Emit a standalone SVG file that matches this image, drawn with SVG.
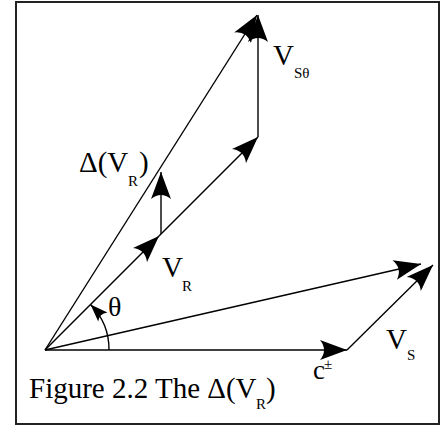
<svg xmlns="http://www.w3.org/2000/svg" width="447" height="428" viewBox="0 0 447 428">
  <defs>
    <marker id="ah" markerUnits="userSpaceOnUse" viewBox="0 0 27 20" refX="27" refY="10" markerWidth="27" markerHeight="20" orient="auto">
      <path d="M27,10 L0,0 Q8,10 0,20 Z" fill="#000"/>
    </marker>
    <marker id="ahs" markerUnits="userSpaceOnUse" viewBox="0 0 27 20" refX="27" refY="10" markerWidth="18" markerHeight="13" orient="auto">
      <path d="M27,10 L0,0 Q8,10 0,20 Z" fill="#000"/>
    </marker>
  </defs>
  <style>
    .ln { fill: none; stroke: #000; stroke-width: 1.4; marker-end: url(#ah); }
    .arc { fill: none; stroke: #000; stroke-width: 1.4; marker-end: url(#ahs); }
    .t { font-family: "Liberation Serif", "Times New Roman", serif; font-size: 29px; fill: #000; }
    .s { font-family: "Liberation Serif", "Times New Roman", serif; font-size: 15px; fill: #000; }
  </style>
  <rect x="16" y="2" width="423" height="422" fill="#fff" stroke="#222" stroke-width="2"/>
  <g id="connectors">
    <line class="ln" x1="45" y1="350" x2="347" y2="350"/>
    <line class="ln" x1="347" y1="350" x2="433" y2="265"/>
    <line class="ln" x1="45" y1="350" x2="421" y2="264"/>
    <line class="ln" x1="45" y1="350" x2="159" y2="236"/>
    <line class="ln" x1="159" y1="236" x2="258" y2="137"/>
    <line class="ln" x1="161" y1="234" x2="161" y2="172"/>
    <line class="ln" x1="258" y1="137" x2="258" y2="15"/>
    <line class="ln" x1="45" y1="350" x2="257" y2="15"/>
    <path class="arc" d="M109,350 A64,64 0 0 0 90.5,304.5"/>
  </g>
  <g id="label-VStheta">
    <text class="t" x="273" y="65">V</text>
    <text class="s" x="294" y="78">Sθ</text>
  </g>
  <g id="label-deltaVR">
    <text class="t" x="79" y="172">Δ(V</text>
    <text class="s" x="128" y="186">R</text>
    <text class="t" x="139" y="172">)</text>
  </g>
  <g id="label-VR">
    <text class="t" x="162" y="277">V</text>
    <text class="s" x="182" y="291">R</text>
  </g>
  <g id="label-theta">
    <text class="t" x="108" y="316" style="font-size:28px">θ</text>
  </g>
  <g id="label-VS">
    <text class="t" x="386" y="349">V</text>
    <text class="s" x="407" y="360">S</text>
  </g>
  <g id="label-c">
    <text class="t" x="313" y="379" style="font-size:27px">c</text>
    <text class="s" x="324" y="369">±</text>
  </g>
  <g id="caption">
    <text class="t" x="29" y="398">Figure 2.2 The Δ(V</text>
    <text class="s" x="256" y="409">R</text>
    <text class="t" x="266" y="398">)</text>
  </g>
</svg>
